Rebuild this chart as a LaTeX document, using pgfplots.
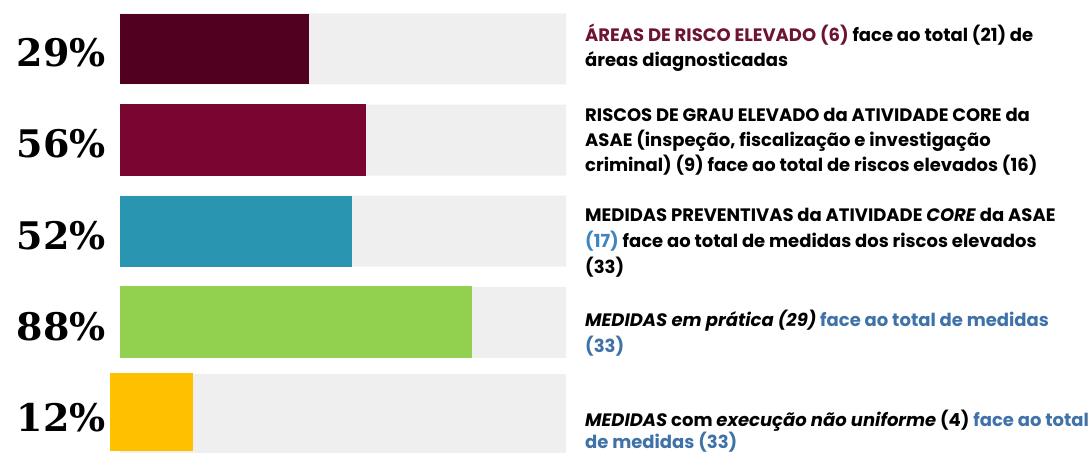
\documentclass[border=0pt]{standalone}
\usepackage{fontspec}
\usepackage{pgfplots}
\pgfplotsset{compat=1.18}
\newfontfamily\pctfont{DejaVu Serif}
\newfontfamily\gothic{Poppins}
\definecolor{cA}{HTML}{52001F}
\definecolor{cB}{HTML}{7A0530}
\definecolor{cC}{HTML}{2A95B0}
\definecolor{cD}{HTML}{92D050}
\definecolor{cE}{HTML}{FFC000}
\definecolor{bgbar}{HTML}{EFEFEF}
\definecolor{maroontxt}{HTML}{6E1432}
\definecolor{bluetxt}{HTML}{3F72A8}
\definecolor{lightbluetxt}{HTML}{3D86C0}
\tikzset{desc/.style={font=\gothic\bfseries\fontsize{18}{20}\selectfont, inner sep=0pt, anchor=base west}}
\begin{document}
\begin{tikzpicture}
\useasboundingbox (0,0) rectangle (1090pt,453pt);
\begin{axis}[
  at={(120pt,0pt)}, anchor=south west,
  scale only axis, width=446pt, height=453pt,
  xmin=0, xmax=100, ymin=0.4649, ymax=5.432,
  y dir=reverse, clip=false,
  axis line style={draw=none}, major tick length=0pt,
  xtick=\empty,
  ytick={1,2,3,4,5},
  yticklabels={29\%,56\%,52\%,88\%,12\%},
  yticklabel style={font=\pctfont\bfseries\fontsize{38}{38}\selectfont, inner sep=0pt, anchor=east, xshift=-14pt, yshift=-4pt},
]
% grey background bars (100%)
\addplot[xbar, bar width=71pt, bar shift=0pt, fill=bgbar, draw=none] coordinates {(100,1) (100,2) (100,3) (100,4)};
\addplot[xbar, bar width=79pt, bar shift=0pt, fill=bgbar, draw=none] coordinates {(100,5)};
% coloured bars
\addplot[xbar, bar width=70pt, bar shift=0pt, fill=cA, draw=none] coordinates {(42.4,1)};
\addplot[xbar, bar width=72pt, bar shift=0pt, fill=cB, draw=none] coordinates {(55.2,2)};
\addplot[xbar, bar width=71pt, bar shift=0pt, fill=cC, draw=none] coordinates {(52.0,3)};
\addplot[xbar, bar width=72pt, bar shift=0pt, fill=cD, draw=none] coordinates {(79.0,4)};
\addplot[fill=cE, draw=none] coordinates {(-2.24,4.555) (16.4,4.555) (16.4,5.41) (-2.24,5.41)} --cycle;
% descriptions
\node[desc] at (axis cs:104.26,0.9145) {\textcolor{maroontxt}{ÁREAS DE RISCO ELEVADO (6)} face ao total (21) de};
\node[desc] at (axis cs:104.26,1.1886) {áreas diagnosticadas};
\node[desc] at (axis cs:104.26,1.7917) {RISCOS DE GRAU ELEVADO da ATIVIDADE CORE da};
\node[desc] at (axis cs:104.26,2.0658) {ASAE (inspeção, fiscalização e investigação};
\node[desc] at (axis cs:104.26,2.3399) {criminal) (9) face ao total de riscos elevados (16)};
\node[desc] at (axis cs:104.26,2.8882) {MEDIDAS PREVENTIVAS da ATIVIDADE \textit{CORE} da ASAE};
\node[desc] at (axis cs:104.26,3.1732) {\textcolor{lightbluetxt}{(17)} face ao total de medidas dos riscos elevados};
\node[desc] at (axis cs:104.26,3.4583) {(33)};
\node[desc] at (axis cs:104.26,4.0395) {\textit{MEDIDAS em prática (29)} \textcolor{bluetxt}{face ao total de medidas}};
\node[desc] at (axis cs:104.26,4.3246) {\textcolor{bluetxt}{(33)}};
\node[desc] at (axis cs:104.26,5.1360) {\textit{MEDIDAS} com \textit{execução não uniforme} (4) \textcolor{bluetxt}{face ao total}};
\node[desc] at (axis cs:104.26,5.3772) {\textcolor{bluetxt}{de medidas (33)}};
\end{axis}
\end{tikzpicture}
\end{document}
